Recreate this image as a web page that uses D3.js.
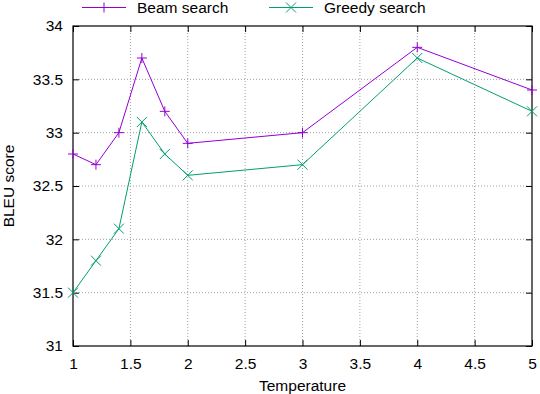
<!DOCTYPE html>
<html>
<head>
<meta charset="utf-8">
<script src="https://cdn.jsdelivr.net/npm/d3@7"></script>
<style>
  body { margin: 0; background: #fff; }
  text { font-family: "Liberation Sans", Arial, sans-serif; }
</style>
</head>
<body>
<div id="chart"></div>
<script>
const temps = [1, 1.2, 1.4, 1.6, 1.8, 2, 3, 4, 5];
const beam = [32.8, 32.7, 33.0, 33.7, 33.2, 32.9, 33.0, 33.8, 33.4];
const greedy = [31.5, 31.8, 32.1, 33.1, 32.8, 32.6, 32.7, 33.7, 33.2];
const xTicks = [1, 1.5, 2, 2.5, 3, 3.5, 4, 4.5, 5];
const yTicks = [31, 31.5, 32, 32.5, 33, 33.5, 34];

const width = 540, height = 394;
const margin = {top: 26, right: 8, bottom: 48, left: 73};
const fs = "15.5px";

const svg = d3.select("#chart").append("svg")
    .attr("width", width)
    .attr("height", height);

const x = d3.scaleLinear().domain([1, 5]).range([margin.left, width - margin.right]);
const y = d3.scaleLinear().domain([31, 34]).range([height - margin.bottom, margin.top]);

// grid
svg.append("g").selectAll("line").data(xTicks.slice(1, -1)).join("line")
    .attr("x1", d => x(d)).attr("x2", d => x(d))
    .attr("y1", y(31)).attr("y2", y(34))
    .attr("stroke", "#a0a0a0").attr("stroke-dasharray", "1,2").attr("stroke-width", 1);
svg.append("g").selectAll("line").data(yTicks.slice(1, -1)).join("line")
    .attr("x1", x(1)).attr("x2", x(5))
    .attr("y1", d => y(d)).attr("y2", d => y(d))
    .attr("stroke", "#a0a0a0").attr("stroke-dasharray", "1,2").attr("stroke-width", 1);

// axes with inward ticks on all sides
svg.append("g").attr("transform", `translate(0,${y(31)})`)
    .call(d3.axisBottom(x).tickValues(xTicks).tickSize(-6).tickPadding(12).tickFormat(d3.format("")))
    .call(g => g.select(".domain").remove())
    .call(g => g.selectAll("text").attr("font-size", fs).attr("fill", "#000").attr("font-family", "Liberation Sans, Arial, sans-serif"));
svg.append("g").attr("transform", `translate(0,${y(34)})`)
    .call(d3.axisTop(x).tickValues(xTicks).tickSize(-6).tickFormat(""))
    .call(g => g.select(".domain").remove());
svg.append("g").attr("transform", `translate(${x(1)},0)`)
    .call(d3.axisLeft(y).tickValues(yTicks).tickSize(-6).tickPadding(10).tickFormat(d3.format("")))
    .call(g => g.select(".domain").remove())
    .call(g => g.selectAll("text").attr("font-size", fs).attr("fill", "#000").attr("font-family", "Liberation Sans, Arial, sans-serif"));
svg.append("g").attr("transform", `translate(${x(5)},0)`)
    .call(d3.axisRight(y).tickValues(yTicks).tickSize(-6).tickFormat(""))
    .call(g => g.select(".domain").remove());

svg.append("rect")
    .attr("x", x(1)).attr("y", y(34))
    .attr("width", x(5) - x(1)).attr("height", y(31) - y(34))
    .attr("fill", "none").attr("stroke", "#000").attr("stroke-width", 1.2);

// series
const series = [
  {name: "Beam search", values: beam, color: "#9400d3", marker: "plus"},
  {name: "Greedy search", values: greedy, color: "#009e73", marker: "cross"}
];

const line = d3.line().x((d, i) => x(temps[i])).y(d => y(d));
const s = 5;
function markerPath(type, cx, cy) {
  if (type === "plus") return `M${cx - s},${cy}H${cx + s}M${cx},${cy - s}V${cy + s}`;
  return `M${cx - s},${cy - s}L${cx + s},${cy + s}M${cx - s},${cy + s}L${cx + s},${cy - s}`;
}

series.forEach(sr => {
  svg.append("path").datum(sr.values)
      .attr("d", line)
      .attr("fill", "none").attr("stroke", sr.color).attr("stroke-width", 1);
  svg.append("g").selectAll("path").data(sr.values).join("path")
      .attr("d", (d, i) => markerPath(sr.marker, x(temps[i]), y(d)))
      .attr("stroke", sr.color).attr("stroke-width", 1).attr("fill", "none");
});

// legend
const legendX = [82, 269];
series.forEach((sr, i) => {
  const lx = legendX[i], ly = 7.5;
  svg.append("line").attr("x1", lx).attr("x2", lx + 44).attr("y1", ly).attr("y2", ly)
      .attr("stroke", sr.color).attr("stroke-width", 1);
  svg.append("path").attr("d", markerPath(sr.marker, lx + 22, ly))
      .attr("stroke", sr.color).attr("stroke-width", 1).attr("fill", "none");
  svg.append("text").attr("x", lx + 55).attr("y", ly + 5.5)
      .attr("font-size", fs).text(sr.name);
});

// axis titles
svg.append("text")
    .attr("x", (x(1) + x(5)) / 2).attr("y", 391)
    .attr("text-anchor", "middle").attr("font-size", fs)
    .text("Temperature");
svg.append("text")
    .attr("transform", `translate(14,${(y(31) + y(34)) / 2}) rotate(-90)`)
    .attr("text-anchor", "middle").attr("font-size", fs)
    .text("BLEU score");
</script>
</body>
</html>
